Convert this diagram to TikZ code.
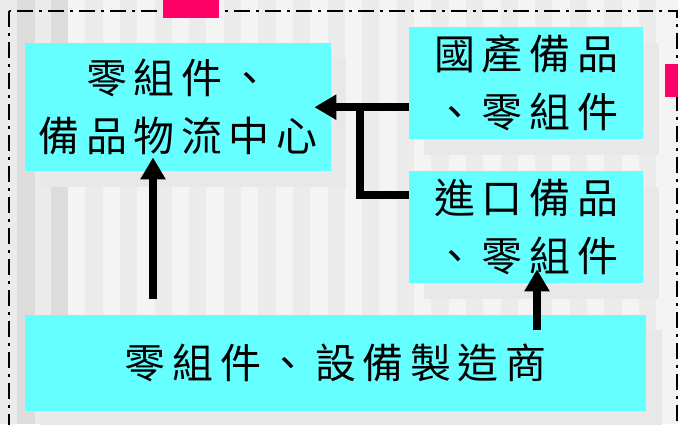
\documentclass[tikz,border=0pt]{standalone}
\usepackage{fontspec}
\newfontfamily\cjk[LetterSpace=16]{Noto Sans CJK TC}
\usetikzlibrary{arrows.meta}
\definecolor{boxcyan}{HTML}{66FFFF}
\definecolor{stripeA}{HTML}{EBEBEB}
\definecolor{stripeB}{HTML}{F4F4F4}
\definecolor{stripeC}{HTML}{DCDCDC}
\definecolor{shadowgray}{HTML}{E8E8E8}
\definecolor{pinkmark}{HTML}{FF0066}
\begin{document}
\begin{tikzpicture}[x=1pt,y=-1pt,
  box/.style={fill=boxcyan, draw=none, rectangle, inner sep=0pt, anchor=north west,
    align=center, font=\cjk\fontsize{41}{58}\selectfont},
  shadowbox/.style={fill=shadowgray, draw=none},
  conn/.style={line width=8pt, draw=black},
  arr/.style={conn, -{Triangle[length=22pt,width=24pt]}}]
\useasboundingbox (0,0) rectangle (678,424);
\clip (0,0) rectangle (678,424);
% background stripes
\fill[stripeA] (0,0) rectangle (678,424);
\foreach \i in {0,...,17} \fill[stripeB] ({68+34.6*\i},0) rectangle ++(17.3,424);
\fill[stripeC] (17,0) rectangle (35,424);
\fill[stripeC] (51,0) rectangle (68,424);
\fill[stripeB!90!stripeA] (663,0) rectangle (678,424);
% frame
\draw[line width=2pt, dash pattern=on 16pt off 6pt on 3pt off 6pt] (9,11) rectangle (677,440);
% pink marks
\fill[pinkmark] (163,0) rectangle (219,18);
\fill[pinkmark] (665,64) rectangle (678,97);
% shadows
\fill[shadowbox] (40,58) rectangle (346,187);
\fill[shadowbox] (424,43) rectangle (659,155);
\fill[shadowbox] (424,187) rectangle (659,299);
\fill[shadowbox] (40,330) rectangle (662,440);
% boxes
\node[box, minimum width=306pt, minimum height=128pt] (A) at (25,43) {零組件、\\備品物流中心};
\node[box, minimum width=234pt, minimum height=112pt] (B) at (409,27) {國產備品\\、零組件};
\node[box, minimum width=234pt, minimum height=112pt] (C) at (409,171) {進口備品\\、零組件};
\node[box, minimum width=621pt, minimum height=96pt] (D) at (25,315) {零組件、設備製造商};
% connectors
\coordinate (j1) at (360,103);
\coordinate (j2) at (360,195);
\coordinate (dA) at (153,299);
\coordinate (dC) at (537,330);
\draw[conn] (C.west |- j2) -- (j2) -- (j1);
\draw[arr] (B.west |- A.east) -- ([xshift=-17pt]A.east);
\draw[arr] (dA) -- ([yshift=14pt]A.south -| dA);
\draw[arr] (dC) -- ([yshift=14pt]C.south -| dC);
\end{tikzpicture}
\end{document}
